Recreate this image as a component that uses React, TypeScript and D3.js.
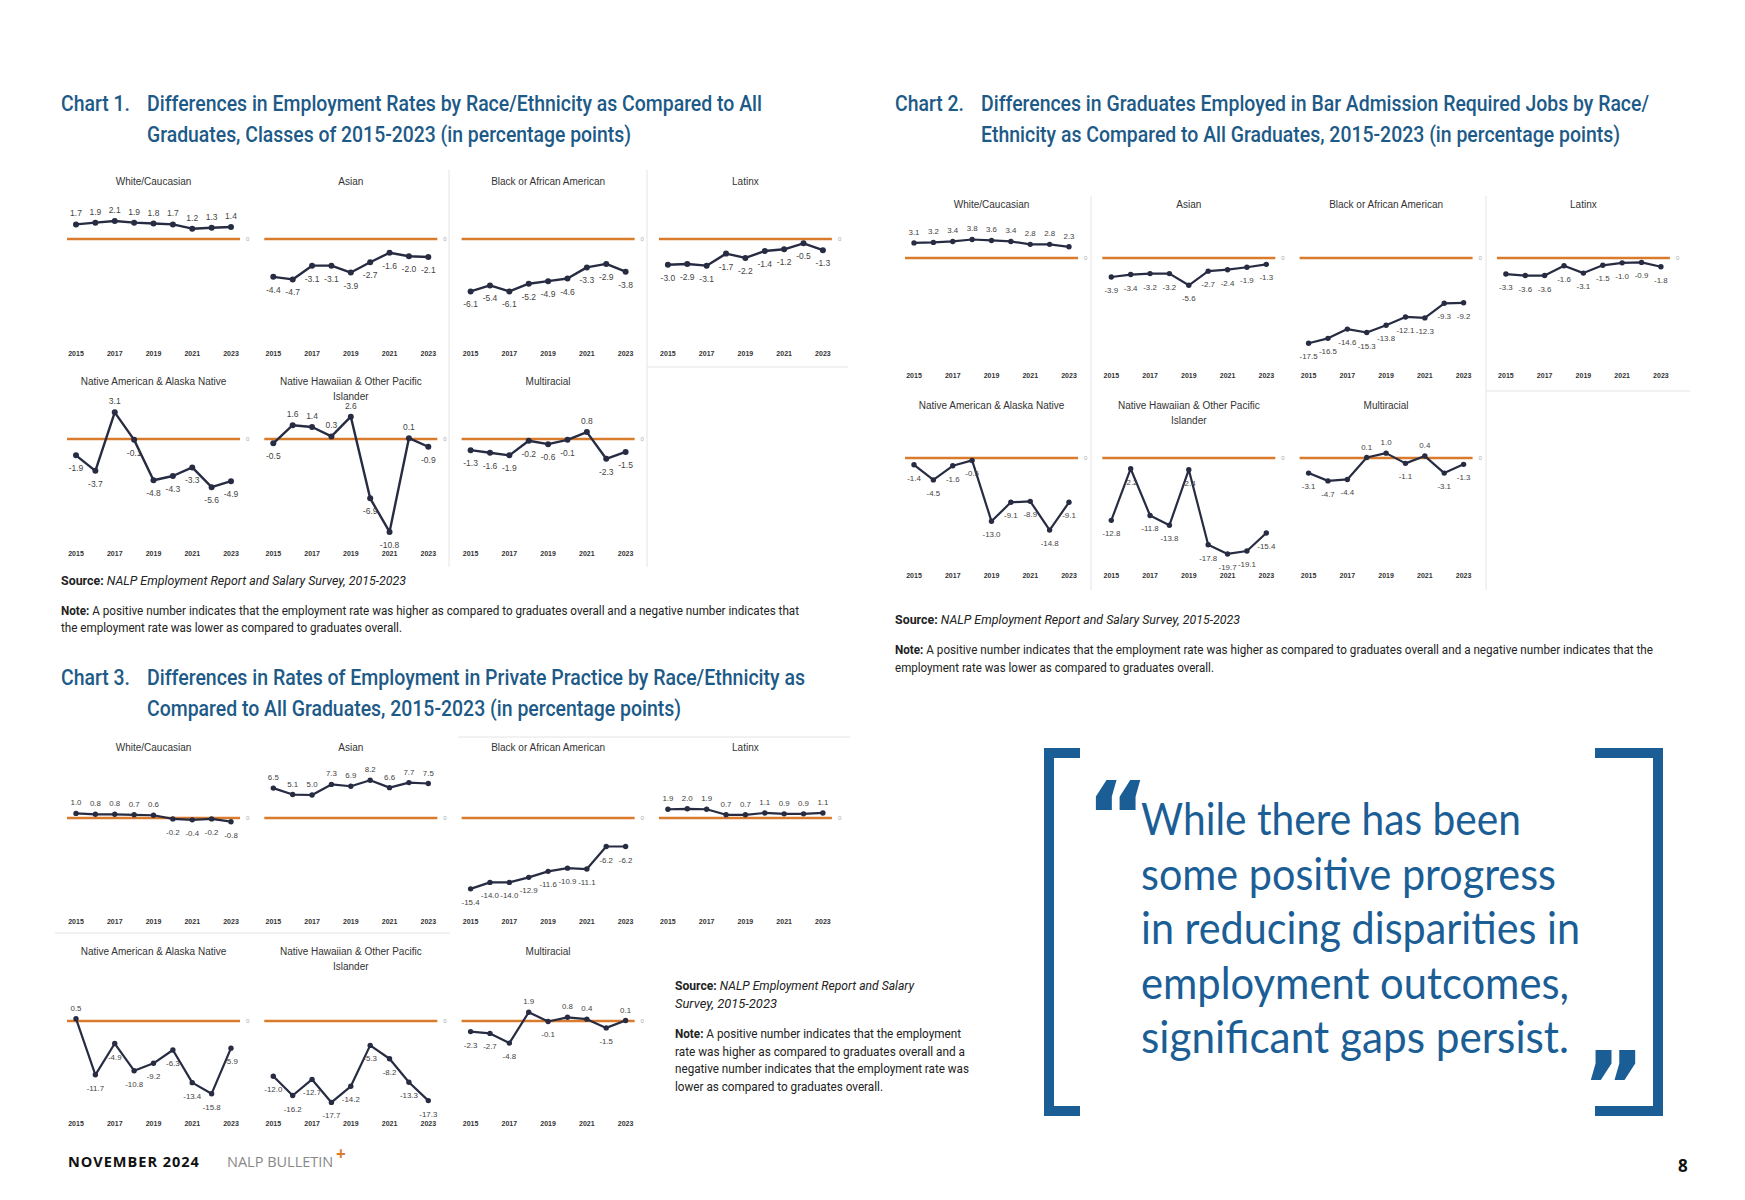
import React from 'react';
import * as d3 from 'd3';

// ---- data (percentage points vs all graduates) ----
const years = [2015, 2016, 2017, 2018, 2019, 2020, 2021, 2022, 2023];
const tickYears = [2015, 2017, 2019, 2021, 2023];
const groupTitles = [
  ['White/Caucasian'],
  ['Asian'],
  ['Black or African American'],
  ['Latinx'],
  ['Native American & Alaska Native'],
  ['Native Hawaiian & Other Pacific', 'Islander'],
  ['Multiracial'],
];

// Chart 1: employment rates
const c1White = [1.7, 1.9, 2.1, 1.9, 1.8, 1.7, 1.2, 1.3, 1.4];
const c1Asian = [-4.4, -4.7, -3.1, -3.1, -3.9, -2.7, -1.6, -2.0, -2.1];
const c1Black = [-6.1, -5.4, -6.1, -5.2, -4.9, -4.6, -3.3, -2.9, -3.8];
const c1Latinx = [-3.0, -2.9, -3.1, -1.7, -2.2, -1.4, -1.2, -0.5, -1.3];
const c1Native = [-1.9, -3.7, 3.1, -0.1, -4.8, -4.3, -3.3, -5.6, -4.9];
const c1Hawaiian = [-0.5, 1.6, 1.4, 0.3, 2.6, -6.9, -10.8, 0.1, -0.9];
const c1Multi = [-1.3, -1.6, -1.9, -0.2, -0.6, -0.1, 0.8, -2.3, -1.5];

// Chart 2: bar admission required jobs
const c2White = [3.1, 3.2, 3.4, 3.8, 3.6, 3.4, 2.8, 2.8, 2.3];
const c2Asian = [-3.9, -3.4, -3.2, -3.2, -5.6, -2.7, -2.4, -1.9, -1.3];
const c2Black = [-17.5, -16.5, -14.6, -15.3, -13.8, -12.1, -12.3, -9.3, -9.2];
const c2Latinx = [-3.3, -3.6, -3.6, -1.6, -3.1, -1.5, -1.0, -0.9, -1.8];
const c2Native = [-1.4, -4.5, -1.6, -0.5, -13.0, -9.1, -8.9, -14.8, -9.1];
const c2Hawaiian = [-12.8, -2.2, -11.8, -13.8, -2.4, -17.8, -19.7, -19.1, -15.4];
const c2Multi = [-3.1, -4.7, -4.4, 0.1, 1.0, -1.1, 0.4, -3.1, -1.3];

// Chart 3: private practice
const c3White = [1.0, 0.8, 0.8, 0.7, 0.6, -0.2, -0.4, -0.2, -0.8];
const c3Asian = [6.5, 5.1, 5.0, 7.3, 6.9, 8.2, 6.6, 7.7, 7.5];
const c3Black = [-15.4, -14.0, -14.0, -12.9, -11.6, -10.9, -11.1, -6.2, -6.2];
const c3Latinx = [1.9, 2.0, 1.9, 0.7, 0.7, 1.1, 0.9, 0.9, 1.1];
const c3Native = [0.5, -11.7, -4.9, -10.8, -9.2, -6.3, -13.4, -15.8, -5.9];
const c3Hawaiian = [-12.0, -16.2, -12.7, -17.7, -14.2, -5.3, -8.2, -13.3, -17.3];
const c3Multi = [-2.3, -2.7, -4.8, 1.9, -0.1, 0.8, 0.4, -1.5, 0.1];

const chart1Series = [c1White, c1Asian, c1Black, c1Latinx, c1Native, c1Hawaiian, c1Multi];
const chart2Series = [c2White, c2Asian, c2Black, c2Latinx, c2Native, c2Hawaiian, c2Multi];
const chart3Series = [c3White, c3Asian, c3Black, c3Latinx, c3Native, c3Hawaiian, c3Multi];

const quoteLines = [
  'While there has been',
  'some positive progress',
  'in reducing disparities in',
  'employment outcomes,',
  'significant gaps persist.',
];

// ---- styling ----
const BLUE = '#1d5a87';
const QUOTE_BLUE = '#1b5e96';
const ORANGE = '#d97b2d';
const NAVY = '#272c42';
const CHART_FONT = "'Liberation Sans', Arial, sans-serif";
const NARROW_FONT = "'Liberation Sans Narrow', 'Roboto', sans-serif";

const PANEL_PITCH = 197.3;
const ZERO_LEN = 173;

interface Layout {
  left: number;
  rows: { top: number; zero: number; tick: number }[];
  ppt: number;
  labelSize: number;
  dot: number;
  stroke: number;
}

const chart1Layout: Layout = {
  left: 67,
  rows: [{ top: 181, zero: 239, tick: 353 }, { top: 381, zero: 439, tick: 553 }],
  ppt: 8.6, labelSize: 8.5, dot: 3, stroke: 2.4,
};
const chart2Layout: Layout = {
  left: 905,
  rows: [{ top: 204, zero: 258, tick: 375 }, { top: 405, zero: 458, tick: 575 }],
  ppt: 4.87, labelSize: 7.9, dot: 2.7, stroke: 2.2,
};
const chart3Layout: Layout = {
  left: 67,
  rows: [{ top: 747, zero: 818, tick: 921 }, { top: 951, zero: 1021, tick: 1123 }],
  ppt: 4.6, labelSize: 7.9, dot: 2.7, stroke: 2.2,
};

const fmt = (v: number) => v.toFixed(1);

const Panel: React.FC<{ values: number[]; title: string[]; x0: number; row: Layout['rows'][0]; layout: Layout }> = ({ values, title, x0, row, layout }) => {
  const x = d3.scaleLinear().domain([2015, 2023]).range([x0 + 9, x0 + 164]);
  const y = d3.scaleLinear().domain([-25, 10]).range([row.zero + 25 * layout.ppt, row.zero - 10 * layout.ppt]);
  const line = d3.line<number>().x((_, i) => x(years[i])).y(d => y(d));
  return (
    <g>
      {title.map((t, i) => (
        <text key={t} x={x0 + 86.5} y={row.top + 3.5 + i * 15} textAnchor="middle" fontSize={10} fill="#333" fontFamily={CHART_FONT}>{t}</text>
      ))}
      <line x1={x0} x2={x0 + ZERO_LEN} y1={y(0)} y2={y(0)} stroke={ORANGE} strokeWidth={2.3} />
      <text x={x0 + ZERO_LEN + 6} y={y(0) + 2} fontSize={6} fill="#aaa" fontFamily={CHART_FONT}>0</text>
      <path d={line(values) || ''} fill="none" stroke={NAVY} strokeWidth={layout.stroke} strokeLinejoin="round" />
      {values.map((v, i) => (
        <circle key={i} cx={x(years[i])} cy={y(v)} r={layout.dot} fill={NAVY} />
      ))}
      {values.map((v, i) => (
        <text key={'l' + i} x={x(years[i])} y={v >= 0 ? y(v) - 8 : y(v) + 16} textAnchor="middle"
          fontSize={layout.labelSize} fill="#444" fontFamily={CHART_FONT}>{fmt(v)}</text>
      ))}
      {tickYears.map(t => (
        <text key={t} x={x(t)} y={row.tick + 2.5} textAnchor="middle" fontSize={7} fontWeight="bold" fill="#333" fontFamily={CHART_FONT}>{t}</text>
      ))}
    </g>
  );
};

const SmallMultiples: React.FC<{ series: number[][]; layout: Layout }> = ({ series, layout }) => (
  <g>
    {series.map((vals, i) => {
      const row = layout.rows[i < 4 ? 0 : 1];
      const col = i < 4 ? i : i - 4;
      return <Panel key={i} values={vals} title={groupTitles[i]} x0={layout.left + col * PANEL_PITCH} row={row} layout={layout} />;
    })}
  </g>
);

const Fit: React.FC<{ x: number; y: number; w: number; size: number; font?: string; fill?: string; weight?: string | number; children: React.ReactNode }> = ({ x, y, w, size, font = NARROW_FONT, fill = '#222', weight, children }) => (
  <text x={x} y={y} textLength={w} lengthAdjust="spacingAndGlyphs" fontSize={size} fontFamily={font} fill={fill} fontWeight={weight}>{children}</text>
);

const ChartTitle: React.FC<{ label: string; x: number; tx: number; y: number; lines: [string, number][] }> = ({ label, x, tx, y, lines }) => (
  <g>
    <Fit x={x} y={y} w={69} size={22} fill={BLUE} weight={500}>{label}</Fit>
    {lines.map(([t, w], i) => (
      <Fit key={t} x={tx} y={y + i * 31} w={w} size={22} fill={BLUE} weight={500}>{t}</Fit>
    ))}
  </g>
);

const Source: React.FC<{ x: number; y: number; w: number; size: number; text: string }> = ({ x, y, w, size, text }) => (
  <text x={x} y={y} textLength={w} lengthAdjust="spacingAndGlyphs" fontSize={size} fontFamily={NARROW_FONT} fill="#222">
    <tspan fontWeight="bold">Source: </tspan><tspan fontStyle="italic">{text}</tspan>
  </text>
);

const Gray = '#e4e4e4';

export default function App() {
  return (
    <svg width={1745} height={1200} style={{ position: 'absolute', left: 0, top: 0, background: '#fff' }}>
      {/* Chart 1 */}
      <ChartTitle label="Chart 1." x={61} tx={147} y={111}
        lines={[['Differences in Employment Rates by Race/Ethnicity as Compared to All', 615], ['Graduates, Classes of 2015-2023 (in percentage points)', 484]]} />
      <line x1={449} x2={449} y1={170} y2={567} stroke={Gray} />
      <line x1={647} x2={647} y1={170} y2={567} stroke={Gray} />
      <line x1={647} x2={848} y1={367} y2={367} stroke={Gray} />
      <SmallMultiples series={chart1Series} layout={chart1Layout} />
      <Source x={61} y={585} w={345} size={12.5} text="NALP Employment Report and Salary Survey, 2015-2023" />
      <Fit x={61} y={615} w={738} size={12.5}><tspan fontWeight="bold">Note:</tspan> A positive number indicates that the employment rate was higher as compared to graduates overall and a negative number indicates that</Fit>
      <Fit x={61} y={632} w={341} size={12.5}>the employment rate was lower as compared to graduates overall.</Fit>

      {/* Chart 2 */}
      <ChartTitle label="Chart 2." x={895} tx={981} y={111}
        lines={[['Differences in Graduates Employed in Bar Admission Required Jobs by Race/', 668], ['Ethnicity as Compared to All Graduates, 2015-2023 (in percentage points)', 639]]} />
      <line x1={1091} x2={1091} y1={196} y2={590} stroke={Gray} />
      <line x1={1486} x2={1486} y1={196} y2={590} stroke={Gray} />
      <line x1={1486} x2={1690} y1={391} y2={391} stroke={Gray} />
      <SmallMultiples series={chart2Series} layout={chart2Layout} />
      <Source x={895} y={624} w={345} size={12.5} text="NALP Employment Report and Salary Survey, 2015-2023" />
      <Fit x={895} y={654} w={758} size={12.5}><tspan fontWeight="bold">Note:</tspan> A positive number indicates that the employment rate was higher as compared to graduates overall and a negative number indicates that the</Fit>
      <Fit x={895} y={672} w={319} size={12.5}>employment rate was lower as compared to graduates overall.</Fit>

      {/* Chart 3 */}
      <ChartTitle label="Chart 3." x={61} tx={147} y={685}
        lines={[['Differences in Rates of Employment in Private Practice by Race/Ethnicity as', 658], ['Compared to All Graduates, 2015-2023 (in percentage points)', 534]]} />
      <line x1={458} x2={850} y1={737} y2={737} stroke={Gray} />
      <line x1={55} x2={450} y1={933} y2={933} stroke={Gray} />
      <SmallMultiples series={chart3Series} layout={chart3Layout} />
      <Source x={675} y={990} w={239} size={12.8} text="NALP Employment Report and Salary" />
      <Fit x={675} y={1007.5} w={102} size={12.8}><tspan fontStyle="italic">Survey, 2015-2023</tspan></Fit>
      <Fit x={675} y={1038} w={286} size={12.8}><tspan fontWeight="bold">Note:</tspan> A positive number indicates that the employment</Fit>
      <Fit x={675} y={1055.5} w={290} size={12.8}>rate was higher as compared to graduates overall and a</Fit>
      <Fit x={675} y={1073} w={294} size={12.8}>negative number indicates that the employment rate was</Fit>
      <Fit x={675} y={1090.5} w={208} size={12.8}>lower as compared to graduates overall.</Fit>

      {/* Pull quote */}
      <path d="M1080,753 H1049 V1111 H1080" fill="none" stroke={QUOTE_BLUE} strokeWidth={10} />
      <path d="M1595,753 H1658 V1111 H1595" fill="none" stroke={QUOTE_BLUE} strokeWidth={10} />
      <text x={1086} y={850} fontSize={96} fontWeight={900} fontFamily="'DejaVu Sans', sans-serif" fill={QUOTE_BLUE}>“</text>
      <text x={1582} y={1120} fontSize={96} fontWeight={900} fontFamily="'DejaVu Sans', sans-serif" fill={QUOTE_BLUE}>”</text>
      {quoteLines.map((t, i) => (
        <Fit key={t} x={1141} y={835 + i * 54.5} w={[380, 415, 439, 428, 428][i]} size={44} font="'Lato', 'Open Sans', sans-serif" fill={QUOTE_BLUE}>{t}</Fit>
      ))}

      {/* Footer */}
      <text x={68} y={1167} fontSize={14.5} fontWeight="bold" letterSpacing={1} fontFamily="'Open Sans', sans-serif" fill="#111">NOVEMBER 2024</text>
      <text x={227} y={1167} fontSize={14.5} fontFamily="'Open Sans', sans-serif" fill="#888">NALP BULLETIN</text>
      <text x={336} y={1160} fontSize={17} fontWeight="bold" fontFamily="'Open Sans', sans-serif" fill={ORANGE}>+</text>
      <text x={1678} y={1172} fontSize={17} fontWeight="bold" fontFamily="'Open Sans', sans-serif" fill="#111">8</text>
    </svg>
  );
}
